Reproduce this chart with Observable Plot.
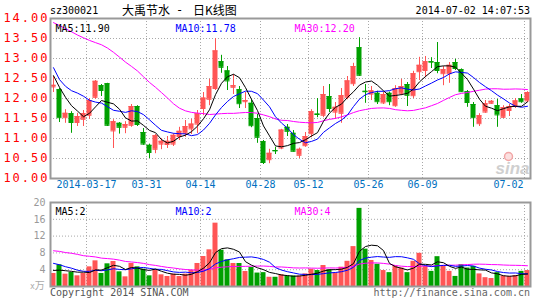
<!DOCTYPE html>
<html><head><meta charset="utf-8">
<script src="https://cdn.jsdelivr.net/npm/d3@7"></script>
<script src="https://cdn.jsdelivr.net/npm/@observablehq/plot@0.6"></script>
<style>
body{margin:0;background:#fff;}
#wrap{position:relative;width:545px;height:300px;overflow:hidden;font-family:"DejaVu Sans Mono",monospace;}
.t{position:absolute;white-space:pre;font-size:10px;line-height:12px;}
#wrap svg{position:absolute;left:0;}
</style></head><body><div id="wrap">
<div class="t" style="left:50px;top:5px;color:#000">sz300021</div>
<div class="t" style="left:122px;top:3px;font-family:'Noto Sans CJK SC';font-size:12px;line-height:14px;color:#000">大禹节水</div>
<div class="t" style="left:176px;top:3px;font-size:12px;line-height:14px;color:#000">-</div>
<div class="t" style="left:193px;top:3px;font-family:'Noto Sans CJK SC';font-size:12px;line-height:14px;color:#000">日K线图</div>
<div class="t" style="right:15px;top:5px;color:#000">2014-07-02 14:07:53</div>
<div class="t" style="left:30px;top:279px;color:#aaa"><span style="font-size:8px">x</span><span style="font-family:'Noto Sans CJK SC';font-size:10px">万</span></div>
<div class="t" style="left:50px;top:287px;color:#555">Copyright 2014 SINA.COM</div>
<div class="t" style="right:15px;top:287px;color:#666">http://finance.sina.com.cn</div>
</div>
<script>
const dates = ["2014-03-07","2014-03-10","2014-03-11","2014-03-12","2014-03-13","2014-03-14","2014-03-17","2014-03-18","2014-03-19","2014-03-20",
"2014-03-21","2014-03-24","2014-03-25","2014-03-26","2014-03-27","2014-03-28","2014-03-31","2014-04-01","2014-04-02","2014-04-03",
"2014-04-04","2014-04-08","2014-04-09","2014-04-10","2014-04-11","2014-04-14","2014-04-15","2014-04-16","2014-04-17","2014-04-18",
"2014-04-21","2014-04-22","2014-04-23","2014-04-24","2014-04-25","2014-04-28","2014-04-29","2014-04-30","2014-05-05","2014-05-06",
"2014-05-07","2014-05-08","2014-05-09","2014-05-12","2014-05-13","2014-05-14","2014-05-15","2014-05-16","2014-05-19","2014-05-20",
"2014-05-21","2014-05-22","2014-05-23","2014-05-26","2014-05-27","2014-05-28","2014-05-29","2014-05-30","2014-06-03","2014-06-04",
"2014-06-05","2014-06-06","2014-06-09","2014-06-10","2014-06-11","2014-06-12","2014-06-13","2014-06-16","2014-06-17","2014-06-18",
"2014-06-19","2014-06-20","2014-06-23","2014-06-24","2014-06-25","2014-06-26","2014-06-27","2014-06-30","2014-07-01","2014-07-02"];

const open  = [12.29,12.22,11.52,11.62,11.40,11.48,11.58,12.03,12.32,12.37, 11.19,11.38,11.28,11.33,11.80,11.15,10.83,10.73,10.86,10.85,
               10.86,11.05,11.13,11.24,11.36,11.75,11.98,12.25,12.92,12.69, 12.28,12.22,11.92,11.88,11.50,10.92,10.47,10.70,10.76,11.28,
               11.13,10.58,10.82,11.12,11.61,11.58,12.05,11.66,11.63,12.03, 12.37,13.27,12.18,12.11,12.13,11.89,12.13,11.82,12.13,12.35,
               12.07,12.67,12.70,12.92,12.90,12.62,12.62,12.90,12.72,12.17, 11.85,11.37,11.66,11.88,11.82,11.53,11.70,11.80,11.99,11.94];
const high  = [12.55,12.25,11.72,11.67,11.63,11.70,12.00,12.45,12.35,12.38, 11.47,11.40,11.42,11.85,11.82,11.25,10.86,11.10,11.00,11.05,
               11.12,11.28,11.45,11.48,11.70,12.15,12.48,13.50,13.08,12.80, 12.60,12.30,12.15,11.97,11.60,10.95,10.73,10.78,11.23,11.35,
               11.20,10.76,11.15,11.72,12.00,12.30,12.35,11.90,12.25,12.55, 12.88,13.52,12.35,12.30,12.18,12.15,12.16,12.32,12.48,12.40,
               12.68,13.03,13.05,13.02,13.40,12.80,12.90,12.98,12.74,12.20, 11.90,11.62,11.95,11.95,11.98,11.82,11.85,12.00,12.10,12.17];
const low   = [12.15,11.40,11.38,11.13,11.30,11.30,11.48,11.98,12.05,11.30, 10.75,11.11,11.12,11.28,11.30,10.83,10.50,10.62,10.72,10.75,
               10.80,10.95,11.03,11.10,11.12,11.57,11.82,12.20,12.63,12.20, 12.10,11.75,11.75,11.27,10.88,10.35,10.37,10.60,10.72,11.05,
               10.66,10.50,10.78,11.02,11.52,11.52,11.65,11.48,11.38,11.97, 12.30,12.55,11.88,11.95,11.85,11.85,11.82,11.78,12.07,11.80,
               12.00,12.45,12.52,12.75,12.62,12.32,12.38,12.70,12.15,11.78, 11.28,11.30,11.63,11.85,11.28,11.50,11.55,11.75,11.88,11.90];
const close = [12.33,11.52,11.63,11.40,11.55,11.62,11.95,12.43,12.20,11.33, 11.42,11.28,11.35,11.80,11.35,10.86,10.65,11.07,10.93,10.93,
               11.08,11.18,11.30,11.36,11.62,12.01,12.30,13.19,12.78,12.44, 12.32,11.87,11.95,11.32,11.03,10.40,10.63,10.69,11.21,11.18,
               10.68,10.73,11.05,11.67,11.60,12.10,11.75,11.78,12.07,12.44, 12.80,12.58,12.17,12.19,11.92,12.10,11.92,12.25,12.30,12.08,
               12.62,12.83,12.92,12.91,12.70,12.72,12.83,12.75,12.17,11.90, 11.52,11.57,11.87,11.93,11.59,11.77,11.80,11.94,11.92,12.15];
// volume, 万
const volume = [3.1,5.16,2.94,3.33,2.54,3.1,4.68,6.11,3.1,5.4, 5.95,3.49,2.3,5.48,4.68,4.13,2.54,3.97,2.78,2.38,
                2.94,2.38,2.94,3.89,5.48,7.14,8.73,15.08,8.65,6.35, 5.48,5.48,3.57,4.52,3.2,3.3,2.2,2.2,2.8,2.5,
                2.5,2.5,3.0,4.1,3.8,5.0,4.0,3.2,4.6,6.0, 9.5,18.6,8.9,6.2,5.3,3.8,3.3,4.9,4.4,3.3,
                6.0,7.9,4.8,3.6,7.1,4.9,3.6,2.4,5.2,4.4, 4.8,3.0,2.1,1.9,3.3,2.5,2.4,2.6,3.6,3.8];
// sessions before the visible window (feed the moving averages only)
const priorClose = [13.7,13.9,13.8,14.0,13.7,13.9,14.1,13.8,13.8, 14.6,14.9,15.1,15.0,14.8,15.2,14.9,14.7,14.9,15.0, 15.4,
                    14.5,13.3,12.5,12.15,12.4,12.97,12.88,12.45,12.22];
const priorVolume = [9.5,11.2,8.4,10.6,12.3,9.1,10.8,11.5,8.7,9.9, 10.4,12.0,9.2,8.8,10.1,11.3,9.6,10.2,9.0,7.4,
                     8.5,7.6,6.8,7.3,5.8,4.8,3.6,4.1,3.5];

const tickLabels = ["2014-03-17","03-31","04-14","04-28","05-12","05-26","06-09","07-02"];
const priceTicks = [10,10.5,11,11.5,12,12.5,13,13.5,14];
const volumeTicks = [4,8,12,16,20];
const priceLegend = ["MA5:11.90","MA10:11.78","MA30:12.20"];
const volumeLegend = ["MA5:2","MA10:2","MA30:4"];
const maPeriods = [30,10,5];

const RED = "#ff5555", GREEN = "#00a000", GRID = "#a8a8a8", FRAME = "#999", XCOL = "#0070c0";
const maColors = {5: "#000000", 10: "#0000ff", 30: "#ff00ff"};
const legendColors = ["#000000","#0000ff","#ff00ff"];
const legendDx = [5, 125, 244];

const n = dates.length;
const rows = dates.map((d, i) => ({i, date: d, o: open[i], h: high[i], l: low[i], c: close[i], v: volume[i], up: close[i] >= open[i]}));
const col = d => d.up ? RED : GREEN;
const half = 5 / 12;
const ticks = tickLabels.map(label => ({label, i: dates.findIndex(d => d.endsWith(label.slice(-5)))}));

function movingAverage(prior, values, k) {
  const all = prior.concat(values);
  return values.map((_, i) => d3.mean(all.slice(prior.length + i - k + 1, prior.length + i + 1)));
}
const baseStyle = {fontFamily: "'DejaVu Sans Mono', monospace", fontSize: "10px", background: "transparent", overflow: "visible"};
const legendMarks = (labels, dy) => labels.map((txt, j) => Plot.text([txt], {text: d => d, frameAnchor: "top-left", textAnchor: "start", dx: legendDx[j], dy, fill: legendColors[j]}));
const xGrid = Plot.ruleX(ticks, {x: d => d.i - 0.5, stroke: GRID, strokeDasharray: "1,2"});

const mainPlot = Plot.plot({
  width: 545, height: 190, marginLeft: 50, marginRight: 15, marginTop: 18, marginBottom: 12,
  x: {domain: [-0.5, n - 0.5], axis: null},
  y: {domain: [10, 14], axis: null},
  style: baseStyle,
  marks: [
    Plot.ruleY(priceTicks, {stroke: GRID, strokeDasharray: "1,2"}),
    xGrid,
    Plot.ruleX(rows, {x: "i", y1: "l", y2: "h", stroke: col}),
    Plot.rect(rows, {x1: d => d.i - half, x2: d => d.i + half, y1: "o", y2: "c", fill: col}),
    Plot.ruleY(rows, {y: "o", x1: d => d.i - half, x2: d => d.i + half, stroke: col}),
    Plot.ruleY(rows, {y: "c", x1: d => d.i - half, x2: d => d.i + half, stroke: col}),
    ...maPeriods.map(k => Plot.line(movingAverage(priorClose, close, k), {x: (d, i) => i, y: d => d, stroke: maColors[k], strokeWidth: 1})),
    Plot.text(["sina"], {text: d => d, frameAnchor: "bottom-right", textAnchor: "end", lineAnchor: "bottom", dx: -1, dy: -5, fontFamily: "Liberation Sans", fontStyle: "italic", fontWeight: "bold", fontSize: 17, fill: "#cfcfcf"}),
    Plot.dot([0], {frameAnchor: "bottom-right", dx: -22, dy: -22, r: 4, stroke: "#f2a6a6", fill: "#fbe0e0", strokeWidth: 1.5}),
    Plot.frame({stroke: FRAME, strokeWidth: 2}),
    Plot.text(priceTicks, {y: d => d, text: d => d.toFixed(2), frameAnchor: "left", textAnchor: "end", dx: -1, fill: "#ff0000", fontSize: 12}),
    Plot.text(ticks.slice(0, -1), {x: d => d.i - 0.5, text: "label", frameAnchor: "bottom", dy: 9, fill: XCOL}),
    Plot.text(ticks.slice(-1), {x: d => d.i - 0.5, text: "label", frameAnchor: "bottom", dy: 9, textAnchor: "end", dx: -1, fill: XCOL}),
    ...legendMarks(priceLegend, 6)
  ]
});
mainPlot.querySelectorAll("text").forEach(t => { if (/^\d+\.\d\d$/.test(t.textContent)) t.setAttribute("letter-spacing", "2"); });
mainPlot.style.top = "0px";

const volPlot = Plot.plot({
  width: 545, height: 110, marginLeft: 50, marginRight: 15, marginTop: 12, marginBottom: 14,
  x: {domain: [-0.5, n - 0.5], axis: null},
  y: {domain: [0, 20], axis: null},
  style: baseStyle,
  marks: [
    Plot.ruleY(volumeTicks, {stroke: GRID, strokeDasharray: "1,2"}),
    xGrid,
    Plot.rect(rows, {x1: d => d.i - half, x2: d => d.i + half, y1: 0, y2: "v", fill: col}),
    ...maPeriods.map(k => Plot.line(movingAverage(priorVolume, volume, k), {x: (d, i) => i, y: d => d, stroke: maColors[k], strokeWidth: 1})),
    Plot.frame({stroke: FRAME, strokeWidth: 2}),
    Plot.text(volumeTicks, {y: d => d, text: d => String(d), frameAnchor: "left", textAnchor: "end", dx: -5, fill: "#999"}),
    ...legendMarks(volumeLegend, 5)
  ]
});
volPlot.style.top = "190px";

const wrap = document.getElementById("wrap");
wrap.appendChild(mainPlot);
wrap.appendChild(volPlot);
</script>
</body></html>
